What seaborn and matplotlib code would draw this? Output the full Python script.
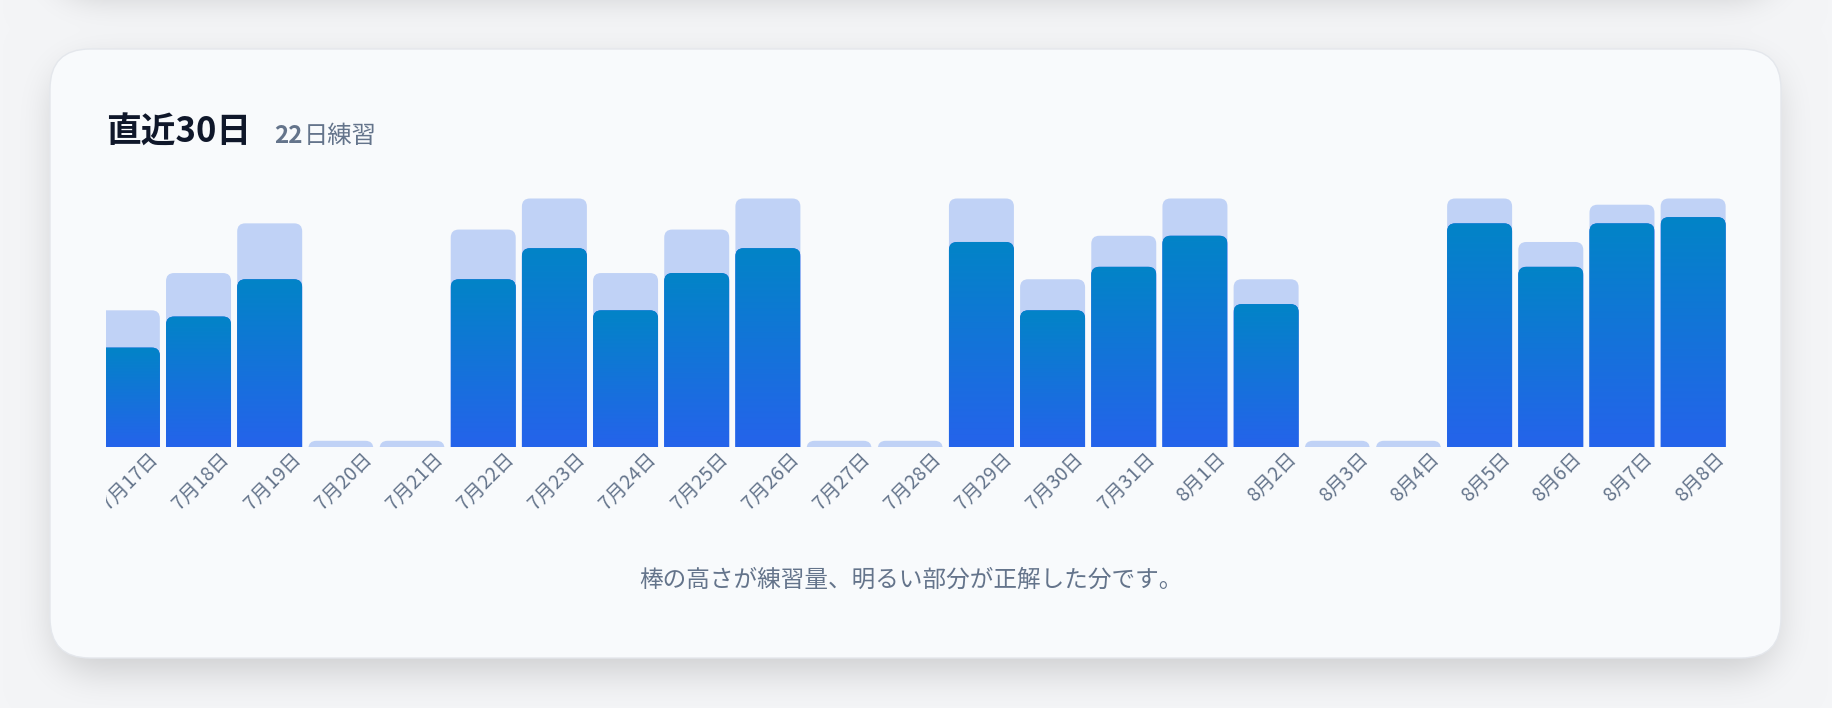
import numpy as np
import pandas as pd
import seaborn as sns
import matplotlib
matplotlib.use("Agg")
import matplotlib.pyplot as plt
from matplotlib.patches import FancyBboxPatch
from matplotlib.colors import LinearSegmentedColormap
from matplotlib.transforms import ScaledTranslation, Bbox, TransformedBbox

# ---------------- data ----------------
dates = ["7月17日", "7月18日", "7月19日", "7月20日", "7月21日", "7月22日", "7月23日",
         "7月24日", "7月25日", "7月26日", "7月27日", "7月28日", "7月29日", "7月30日",
         "7月31日", "8月1日", "8月2日", "8月3日", "8月4日", "8月5日", "8月6日",
         "8月7日", "8月8日"]
practiced = [22, 28, 36, 0, 0, 35, 40, 28, 35, 40, 0, 0, 40, 27, 34, 40, 27, 0, 0, 40, 33, 39, 40]
correct = [16, 21, 27, 0, 0, 27, 32, 22, 28, 32, 0, 0, 33, 22, 29, 34, 23, 0, 0, 36, 29, 36, 37]
title_text = "直近30日"
subtitle_count = "22"
subtitle_suffix = "日練習"
footer_text = "棒の高さが練習量、明るい部分が正解した分です。"

# ---------------- style ----------------
W, H = 1832, 708
DPI = 100
LIGHT = "#c0d2f6"
GRAD_TOP = "#0284c7"
GRAD_BOT = "#2563eb"
DARK = "#0f172a"
GRAY = "#64748b"
CARD = "#f8fafc"
BASE_BG = np.array([244, 245, 247]) / 255.0
STUB = 1.0  # minimum visible height for empty days

sns.set_theme(style="white")
plt.rcParams["font.family"] = ["Noto Sans CJK JP", "DejaVu Sans"]

fig = plt.figure(figsize=(W / DPI, H / DPI), dpi=DPI)

# ---------------- background with soft shadows ----------------
P = 140
yy, xx = np.mgrid[-P:H + P, -P:W + P] + 0.5


def rrect(x0, y0, x1, y1, r):
    cx = np.clip(xx, x0 + r, x1 - r)
    cy = np.clip(yy, y0 + r, y1 - r)
    d = np.hypot(xx - cx, yy - cy)
    return np.clip(r - d + 0.5, 0, 1)


def box(a, r, axis):
    a = np.moveaxis(a, axis, 0)
    pad = [(r + 1, r)] + [(0, 0)] * (a.ndim - 1)
    c = np.cumsum(np.pad(a, pad, mode="edge"), axis=0)
    out = (c[2 * r + 1:] - c[:-2 * r - 1]) / (2 * r + 1)
    return np.moveaxis(out, 0, axis)


def blur(a, r, passes=3):
    for _ in range(passes):
        a = box(a, r, 0)
        a = box(a, r, 1)
    return a


sh1 = blur(rrect(54, 64, 1777, 672, 40), 17)
sh2 = blur(rrect(54, -700, 1777, -6, 40), 17)
shadow = np.clip(sh1 * 0.16 + sh2 * 0.20, 0, 1)[P:P + H, P:P + W]
bg = BASE_BG[None, None, :] * (1 - shadow[..., None])

axbg = fig.add_axes([0, 0, 1, 1], zorder=-1)
axbg.imshow(bg, extent=[0, W, H, 0], aspect="auto", interpolation="bilinear")
axbg.add_patch(FancyBboxPatch((50, 49), 1731, 609,
                              boxstyle="round,pad=0,rounding_size=40",
                              fc=CARD, ec="#e4e7ec", lw=1.0))
axbg.set_xlim(0, W)
axbg.set_ylim(H, 0)
axbg.axis("off")

# ---------------- chart ----------------
ax_left, ax_right = 106, 1725.6
ax_top, ax_bot = 198.5, 447
ax = fig.add_axes([ax_left / W, 1 - ax_bot / H, (ax_right - ax_left) / W, (ax_bot - ax_top) / H])
ax.set_facecolor("none")

XMIN, XMAX, YMAX = -0.30, 22.456, 40
BAR_W = 0.913

df = pd.DataFrame({
    "date": dates,
    "practiced_shown": np.maximum(np.array(practiced, dtype=float), STUB),
    "correct": correct,
})
sns.barplot(data=df, x="date", y="practiced_shown", color=LIGHT, saturation=1,
            width=BAR_W, errorbar=None, ax=ax)
n_light = len(ax.patches)
sns.barplot(data=df, x="date", y="correct", color=GRAD_BOT, saturation=1,
            width=BAR_W, errorbar=None, ax=ax)

# convert bars into rounded-top bars; dark bars get a vertical gradient
px_x = (XMAX - XMIN) / (ax_right - ax_left)
px_y = YMAX / (ax_bot - ax_top)
aspect = px_y / px_x
radius_px = 8
cmap = LinearSegmentedColormap.from_list("g", [GRAD_TOP, GRAD_BOT])
grad = np.linspace(0, 1, 256).reshape(-1, 1)

bars = list(ax.patches)
for i, p in enumerate(bars):
    x, w, h = p.get_x(), p.get_width(), p.get_height()
    p.remove()
    if not h or h <= 0:
        continue
    light = i < n_light
    ext = 3.0
    rp = FancyBboxPatch((x, -ext), w, h + ext,
                        boxstyle=f"round,pad=0,rounding_size={radius_px * px_x}",
                        mutation_aspect=aspect,
                        fc=LIGHT if light else GRAD_BOT, ec="none",
                        zorder=1 if light else 2)
    ax.add_patch(rp)
    if not light:
        im = ax.imshow(grad, cmap=cmap, extent=[x, x + w, 0, h], aspect="auto",
                       origin="upper", zorder=3, interpolation="bilinear")
        im.set_clip_path(rp)

ax.set_xlim(XMIN, XMAX)
ax.set_ylim(0, YMAX)
ax.set_aspect("auto")
for s in ax.spines.values():
    s.set_visible(False)
ax.set_yticks([])
ax.set_xlabel("")
ax.set_ylabel("")
ax.grid(False)
ax.tick_params(axis="x", length=0, pad=0)
ax.set_xticks(range(len(dates)))
ax.set_xticklabels(dates, rotation=45, ha="right", va="center",
                   rotation_mode="anchor", color=GRAY, fontsize=14)
clip = TransformedBbox(Bbox([[ax_left / W, 0], [1, 1]]), fig.transFigure)
off = ScaledTranslation(28 / DPI, -9 / DPI, fig.dpi_scale_trans)
for lab in ax.get_xticklabels():
    lab.set_transform(lab.get_transform() + off)
    lab.set_clip_box(clip)
    lab.set_clip_on(True)

# ---------------- texts ----------------
fig.text(106 / W, 1 - 143 / H, title_text, fontsize=25, weight="bold",
         color=DARK, va="baseline", ha="left")
t_count = fig.text(274 / W, 1 - 143 / H, subtitle_count, fontsize=17.5, color=GRAY,
                   weight="bold", va="baseline", ha="left")
fig.canvas.draw()
bb = t_count.get_window_extent()
fig.text((bb.x1 + 1) / W, 1 - 143 / H, subtitle_suffix, fontsize=17.5, color=GRAY,
         va="baseline", ha="left")
fig.text(911 / W, 1 - 580 / H, footer_text, fontsize=17, color=GRAY,
         va="center", ha="center")

fig.savefig("out.png", dpi=DPI)
